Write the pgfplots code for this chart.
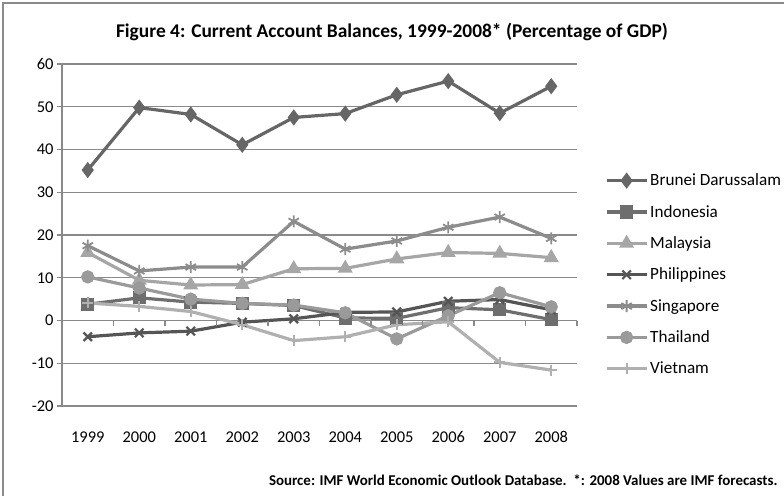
\documentclass[border=0pt]{standalone}
\usepackage{pgfplots}
\pgfplotsset{compat=1.18}
\usepackage{fontspec}
\setmainfont{Carlito}
\definecolor{cBru}{HTML}{666666}
\definecolor{cIdn}{HTML}{6E6E6E}
\definecolor{cMys}{HTML}{A6A6A6}
\definecolor{cPhl}{HTML}{555555}
\definecolor{cSgp}{HTML}{8C8C8C}
\definecolor{cTha}{HTML}{9A9A9A}
\definecolor{cVnm}{HTML}{B0B0B0}
\definecolor{cGrid}{HTML}{8A8A8A}
\begin{document}
\begin{tikzpicture}
\useasboundingbox (0,0) rectangle (784bp,496bp);
\clip (0,0) rectangle (784bp,496bp);
\draw[line width=1.5bp, color=cGrid] (3bp,-20bp) rectangle (800bp,493bp);
\begin{axis}[
  at={(62bp,90bp)}, anchor=south west,
  scale only axis, width=515bp, height=342bp,
  xmin=0.5, xmax=10.5, ymin=-20, ymax=60,
  xtick={1,...,10},
  xticklabels={1999,2000,2001,2002,2003,2004,2005,2006,2007,2008},
  ytick={-20,-10,0,10,20,30,40,50,60},
  yticklabels={-20,-10,0,10,20,30,40,50,60},
  axis y line*=left, axis x line*=bottom,
  x axis line style={draw=none},
  y axis line style={draw=cGrid, line width=1.3bp},
  major x tick style={draw=none},
  major y tick style={draw=cGrid, line width=1.3bp},
  major tick length=5bp, tick align=outside,
  ymajorgrids, grid style={draw=cGrid, line width=1.3bp},
  ticklabel style={font=\fontsize{16.5}{18}\selectfont},
  xticklabel style={yshift=-17bp},
  legend style={at={(1.054,0.685)}, anchor=north west, draw=none, fill=none,
    font=\fontsize{17.2}{19}\selectfont, row sep=14bp, inner sep=0pt,
    cells={anchor=west}},
  legend image code/.code={\draw[mark repeat=2,mark phase=2] plot coordinates {(0bp,0bp) (20bp,0bp) (40bp,0bp)};},
  every axis plot/.append style={line width=3.2bp, mark options={solid}},
  clip=false,
]
\addplot[color=cBru, mark=diamond*, mark size=5.5bp] coordinates {(1,35.2) (2,49.8) (3,48.2) (4,41.1) (5,47.5) (6,48.4) (7,52.8) (8,56.0) (9,48.5) (10,54.8)};
\addlegendentry{Brunei Darussalam}
\addplot[color=cIdn, mark=square*, mark size=5bp] coordinates {(1,3.8) (2,5.3) (3,4.3) (4,4.0) (5,3.5) (6,0.6) (7,0.5) (8,3.0) (9,2.5) (10,0.2)};
\addlegendentry{Indonesia}
\addplot[color=cMys, mark=triangle*, mark size=5.5bp] coordinates {(1,15.9) (2,9.4) (3,8.3) (4,8.4) (5,12.1) (6,12.2) (7,14.4) (8,15.9) (9,15.7) (10,14.7)};
\addlegendentry{Malaysia}
\addplot[color=cPhl, mark=x, mark size=6bp, mark options={line width=2.2bp}] coordinates {(1,-3.8) (2,-2.9) (3,-2.5) (4,-0.4) (5,0.4) (6,1.9) (7,2.0) (8,4.5) (9,4.9) (10,2.5)};
\addlegendentry{Philippines}
\addplot[color=cSgp, mark=asterisk, mark size=6bp, mark options={line width=1.8bp}] coordinates {(1,17.5) (2,11.6) (3,12.5) (4,12.5) (5,23.2) (6,16.7) (7,18.6) (8,21.8) (9,24.2) (10,19.2)};
\addlegendentry{Singapore}
\addplot[color=cTha, mark=*, mark size=5bp] coordinates {(1,10.2) (2,7.6) (3,5.0) (4,4.0) (5,3.6) (6,1.8) (7,-4.3) (8,1.1) (9,6.5) (10,3.2)};
\addlegendentry{Thailand}
\addplot[color=cVnm, mark=+, mark size=5.5bp, mark options={line width=1.8bp}] coordinates {(1,4.1) (2,3.3) (3,2.1) (4,-1.0) (5,-4.7) (6,-3.8) (7,-1.0) (8,-0.3) (9,-9.8) (10,-11.6)};
\addlegendentry{Vietnam}
\pgfplotsinvokeforeach{0.5,1.5,2.5,3.5,4.5,5.5,6.5,7.5,8.5,9.5,10.5}{
  \draw[cGrid, line width=1.3bp] (axis cs:#1,0) -- ([yshift=-5bp]axis cs:#1,0);
}
\end{axis}
\node[font=\bfseries\fontsize{19.5}{22}\selectfont] at (392bp,464bp) {Figure 4: Current Account Balances, 1999-2008* (Percentage of GDP)};
\node[font=\bfseries\fontsize{15}{17}\selectfont, anchor=east] at (781bp,16bp) {Source: IMF World Economic Outlook Database.~~*: 2008 Values are IMF forecasts.};
\end{tikzpicture}
\end{document}
